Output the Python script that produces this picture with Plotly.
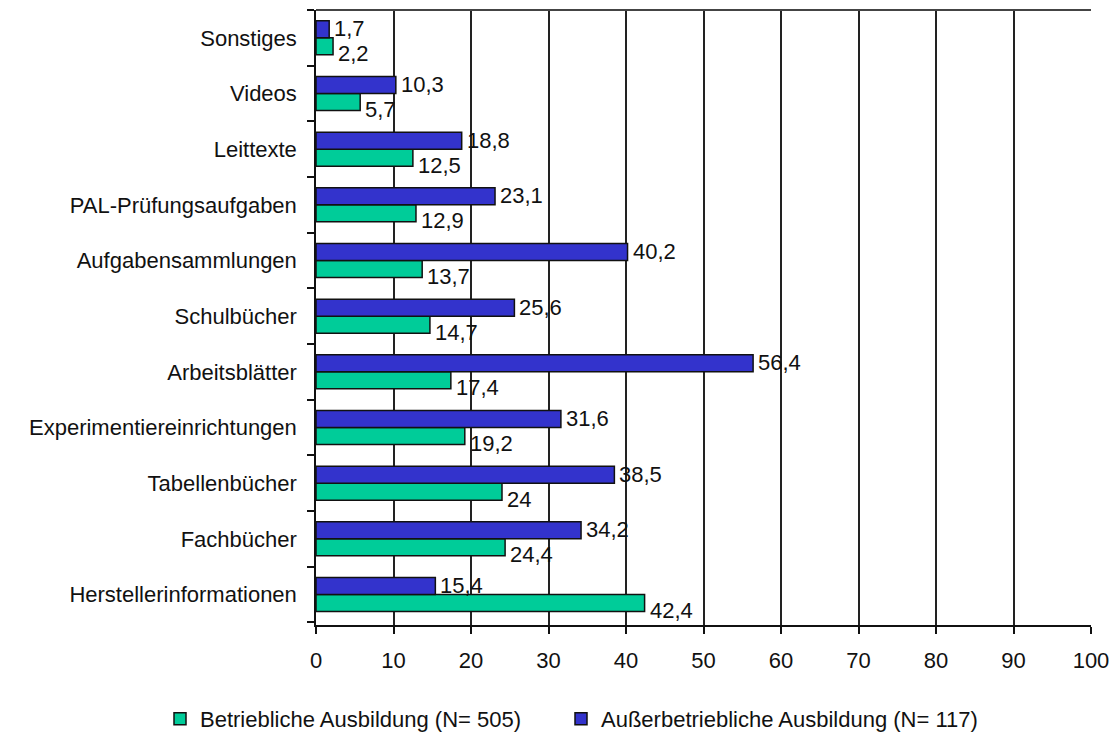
import plotly.graph_objects as go

categories = ["Herstellerinformationen", "Fachbücher", "Tabellenbücher",
              "Experimentiereinrichtungen", "Arbeitsblätter", "Schulbücher",
              "Aufgabensammlungen", "PAL-Prüfungsaufgaben", "Leittexte",
              "Videos", "Sonstiges"]
betrieblich = [42.4, 24.4, 24, 19.2, 17.4, 14.7, 13.7, 12.9, 12.5, 5.7, 2.2]
ausserbetrieblich = [15.4, 34.2, 38.5, 31.6, 56.4, 25.6, 40.2, 23.1, 18.8, 10.3, 1.7]
series_names = ["Betriebliche Ausbildung (N= 505)", "Außerbetriebliche Ausbildung (N= 117)"]
x_ticks = [0, 10, 20, 30, 40, 50, 60, 70, 80, 90, 100]

def fmt(v):
    return f"{v:g}".replace(".", ",")

FONT = "Liberation Sans, Arial, sans-serif"
FS = 22
GREEN, BLUE = "#00CC99", "#3333CC"
fig = go.Figure()
for name, vals, col, lg in [(series_names[0], betrieblich, GREEN, "legend"),
                            (series_names[1], ausserbetrieblich, BLUE, "legend2")]:
    fig.add_trace(go.Bar(
        y=categories, x=vals, orientation="h", name=name, legend=lg,
        marker=dict(color=col, line=dict(color="#111111", width=1.5)),
        hoverinfo="skip",
    ))

# value labels (right of bar end; green labels sit a little lower, as in the original)
for cat, g, b in zip(categories, betrieblich, ausserbetrieblich):
    fig.add_annotation(x=b, y=cat, text=fmt(b), showarrow=False, xanchor="left",
                       xshift=3, yshift=9, font=dict(family=FONT, size=FS, color="#111111"))
    fig.add_annotation(x=g, y=cat, text=fmt(g), showarrow=False, xanchor="left",
                       xshift=3, yshift=-16, font=dict(family=FONT, size=FS, color="#111111"))

leg_common = dict(orientation="h", xref="container", xanchor="left",
                  yref="container", y=0.0, yanchor="bottom",
                  font=dict(family=FONT, size=FS), itemwidth=30,
                  bgcolor="rgba(0,0,0,0)")
fig.update_layout(
    width=1115, height=740,
    margin=dict(l=316, r=24, t=10, b=115, autoexpand=False),
    paper_bgcolor="white", plot_bgcolor="white",
    barmode="group", bargap=0.39, bargroupgap=0,
    font=dict(family=FONT, size=FS, color="#111111"),
    showlegend=True,
    legend=dict(x=160 / 1115, **leg_common),
    legend2=dict(x=561 / 1115, **leg_common),
    xaxis=dict(range=[0, 100], tickvals=x_ticks, ticktext=[str(t) for t in x_ticks],
               showgrid=True, gridcolor="#222222", gridwidth=1.6,
               showline=True, linecolor="#111111", linewidth=1.5,
               ticks="outside", ticklen=7, tickcolor="#111111", tickwidth=1.5,
               zeroline=False, ticklabelstandoff=8, automargin=False),
    yaxis=dict(type="category", categoryorder="array", categoryarray=categories,
               showline=True, linecolor="#111111", linewidth=1.5,
               ticks="outside", ticklen=7, tickcolor="#111111", tickwidth=1.5,
               tickson="boundaries", showgrid=False, ticklabelstandoff=13,
               automargin=False),
)
# top border of plot area
fig.add_shape(type="line", xref="paper", yref="paper", x0=0, x1=1, y0=1, y1=1,
              line=dict(color="#444444", width=2))
fig.write_html("out.html", config={"displayModeBar": False},
               post_script="document.body.style.margin='0';document.body.style.overflow='hidden';")
